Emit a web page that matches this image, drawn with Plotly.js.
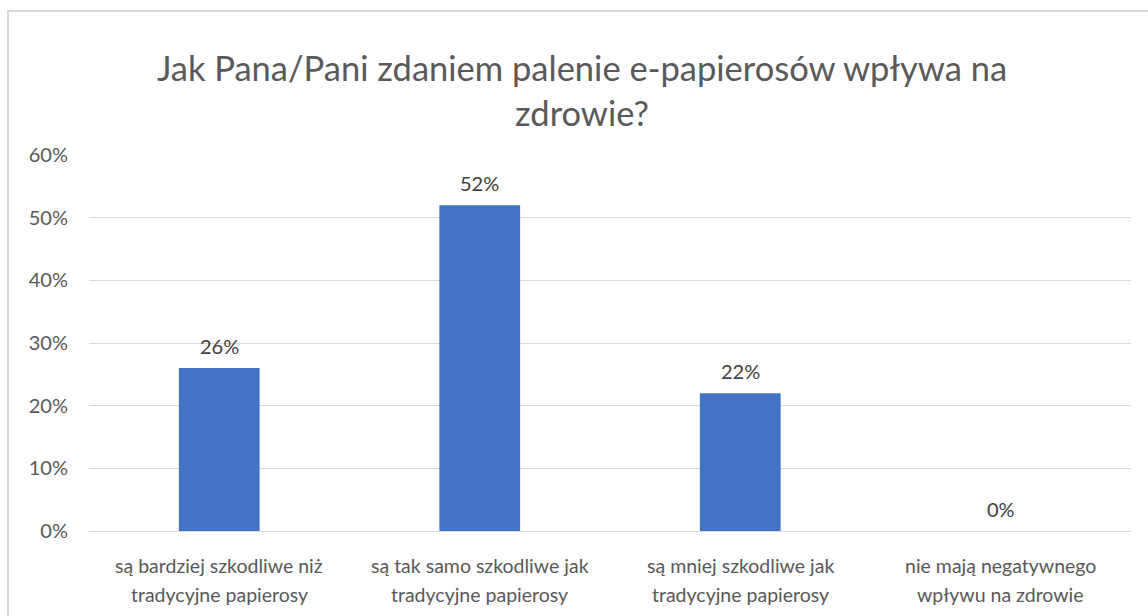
<!DOCTYPE html>
<html>
<head>
<meta charset="utf-8">
<script src="https://cdn.plot.ly/plotly-3.0.1.min.js"></script>
<style>
html,body{margin:0;padding:0;background:#fff;}
#wrap{position:relative;width:1148px;height:616px;overflow:hidden;}
#chart{width:1148px;height:616px;}
#frame{position:absolute;left:7px;top:10px;width:1160px;height:620px;border-left:2px solid #d9d9d9;border-top:2px solid #d9d9d9;pointer-events:none;}
</style>
</head>
<body>
<div id="wrap"><div id="chart"></div><div id="frame"></div></div>
<script>
const categories = [
  "są bardziej szkodliwe niż tradycyjne papierosy",
  "są tak samo szkodliwe jak tradycyjne papierosy",
  "są mniej szkodliwe jak tradycyjne papierosy",
  "nie mają negatywnego wpływu na zdrowie"
];
const labelLine1 = [
  "są bardziej szkodliwe niż",
  "są tak samo szkodliwe jak",
  "są mniej szkodliwe jak",
  "nie mają negatywnego"
];
const labelLine2 = [
  "tradycyjne papierosy",
  "tradycyjne papierosy",
  "tradycyjne papierosy",
  "wpływu na zdrowie"
];
const values = [0.26, 0.52, 0.22, 0.0];
const tickVals = [0, 0.1, 0.2, 0.3, 0.4, 0.5, 0.6];
const tickText = ["0%", "10%", "20%", "30%", "40%", "50%", "60%"];
const titleText = "Jak Pana/Pani zdaniem palenie e-papierosów wpływa na<br>zdrowie?";

const font = "Lato, 'Open Sans', sans-serif";
const grey = "#595959";

const W = 1148, H = 616;
const M = {l: 89, r: 17, t: 155, b: 85};

const annotations = [];
categories.forEach((c, i) => {
  annotations.push({x: c, xref: "x", y: 0, yref: "paper", text: labelLine1[i],
    showarrow: false, yanchor: "middle", yshift: -34,
    font: {family: font, size: 19.5, color: grey}});
  annotations.push({x: c, xref: "x", y: 0, yref: "paper", text: labelLine2[i],
    showarrow: false, yanchor: "middle", yshift: -63,
    font: {family: font, size: 19.5, color: grey}});
  annotations.push({x: c, xref: "x", y: values[i], yref: "y",
    text: Math.round(values[i] * 100) + "%",
    showarrow: false, yanchor: "middle", yshift: 22,
    font: {family: font, size: 20, color: "#404040"}});
});

Plotly.newPlot("chart", [{
  type: "bar",
  x: categories,
  y: values,
  marker: {color: "#4472C4"},
  hoverinfo: "skip"
}], {
  width: W, height: H,
  margin: M,
  paper_bgcolor: "rgba(0,0,0,0)",
  plot_bgcolor: "#fff",
  bargap: 0.69,
  showlegend: false,
  title: {
    text: titleText,
    font: {family: font, size: 34.5, color: grey},
    x: 582 / W, xref: "container", xanchor: "center",
    y: 1 - 81 / H, yref: "container", yanchor: "middle"
  },
  annotations: annotations,
  xaxis: {
    showticklabels: false,
    showgrid: false, showline: false, ticks: "", zeroline: false
  },
  yaxis: {
    range: [0, 0.6],
    tickvals: tickVals, ticktext: tickText,
    tickfont: {family: font, size: 20, color: grey},
    ticklabelstandoff: 20,
    showgrid: true, gridcolor: "#d9d9d9", gridwidth: 1,
    zeroline: true, zerolinecolor: "#d9d9d9", zerolinewidth: 1,
    showline: false, ticks: "", automargin: false
  },
  font: {family: font}
}, {displayModeBar: false, staticPlot: true});
</script>
</body>
</html>
